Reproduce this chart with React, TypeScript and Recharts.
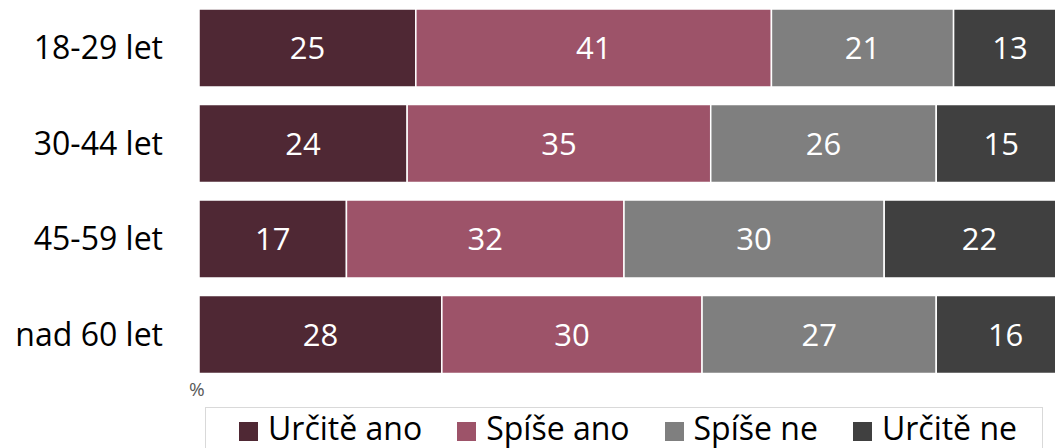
import { BarChart, Bar, XAxis, YAxis, LabelList, Legend } from "recharts";

const categories = ["18-29 let", "30-44 let", "45-59 let", "nad 60 let"];
const urciteAno = [25, 24, 17, 28];
const spiseAno = [41, 35, 32, 30];
const spiseNe = [21, 26, 30, 27];
const urciteNe = [13, 15, 22, 16];

const series = [
    { key: "urciteAno", name: "Určitě ano", color: "#4F2834" },
    { key: "spiseAno", name: "Spíše ano", color: "#9D5369" },
    { key: "spiseNe", name: "Spíše ne", color: "#7F7F7F" },
    { key: "urciteNe", name: "Určitě ne", color: "#404040" },
];

const data = categories.map((group, i) => ({
    group,
    urciteAno: urciteAno[i],
    spiseAno: spiseAno[i],
    spiseNe: spiseNe[i],
    urciteNe: urciteNe[i],
}));

const font = "'Open Sans', sans-serif";

function LegendBox() {
    return (
        <div
            style={{
                position: "absolute",
                left: 205,
                top: 407,
                width: 838,
                height: 60,
                border: "1px solid #d9d9d9",
                boxSizing: "border-box",
                display: "flex",
                justifyContent: "center",
                alignItems: "flex-start",
                gap: 35,
                paddingLeft: 8,
                fontFamily: font,
                fontSize: 32,
                color: "#000",
                lineHeight: "40px",
            }}
        >
            {series.map((s) => (
                <div key={s.key} style={{ display: "flex", alignItems: "flex-start" }}>
                    <span style={{ width: 19, height: 19, background: s.color, marginRight: 10, marginTop: 14 }} />
                    <span>{s.name}</span>
                </div>
            ))}
        </div>
    );
}

export default function App() {
    return (
        <div style={{ position: "fixed", left: 0, top: 0, width: 1055, height: 448, overflow: "hidden", background: "#fff" }}>
            <BarChart
                width={1075}
                height={448}
                data={data}
                layout="vertical"
                margin={{ top: 0, right: 0, bottom: 66, left: 0 }}
            >
                <XAxis type="number" domain={[0, 100]} hide />
                <YAxis
                    type="category"
                    dataKey="group"
                    width={199}
                    axisLine={false}
                    tickLine={false}
                    tickSize={0}
                    tickMargin={36}
                    tick={{ fill: "#000", fontSize: 32, fontFamily: font }}
                />
                {series.map((s) => (
                    <Bar
                        key={s.key}
                        dataKey={s.key}
                        name={s.name}
                        stackId="a"
                        fill={s.color}
                        stroke="#fff"
                        strokeWidth={1.5}
                        barSize={78}
                        isAnimationActive={false}
                    >
                        <LabelList dataKey={s.key} position="center" fill="#fff" fontSize={31} fontFamily={font} />
                    </Bar>
                ))}
                <Legend content={() => null} />
            </BarChart>
            <div style={{ position: "absolute", left: 189, top: 376, fontFamily: font, fontSize: 19, lineHeight: "normal", color: "#595959" }}>%</div>
            <LegendBox />
        </div>
    );
}
